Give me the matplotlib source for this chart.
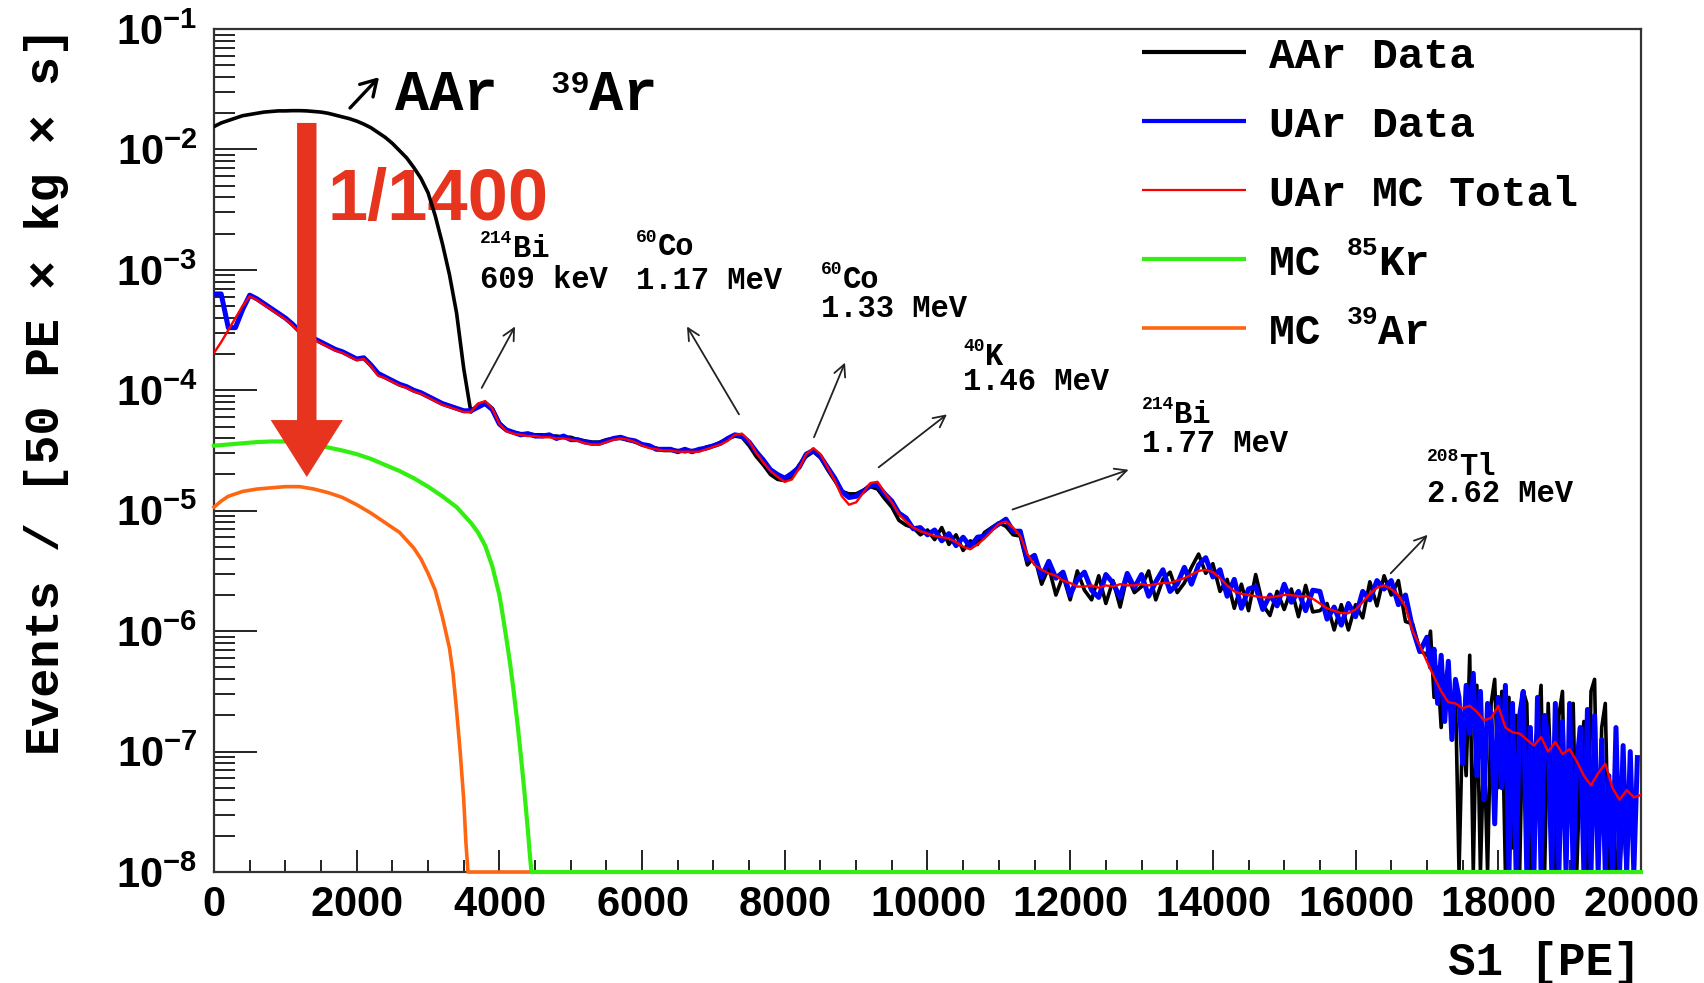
import numpy as np
import matplotlib
matplotlib.use("Agg")
import matplotlib.pyplot as plt
from matplotlib.patches import FancyArrowPatch, ArrowStyle
from matplotlib.ticker import MultipleLocator, FuncFormatter, NullFormatter

# =========================
# DATA  (log10 of events / [50 PE x kg x s])
# =========================

E = -np.inf  # empty bin

# UAr MC total, 100 PE steps from 0 to 20000
mc_total_log = [
    -3.69, -3.60, -3.50, -3.40, -3.30, -3.22, -3.25, -3.29, -3.33, -3.37,
    -3.41, -3.46, -3.52, -3.55, -3.58, -3.61, -3.64, -3.67, -3.69, -3.72,
    -3.75, -3.74, -3.80, -3.88, -3.90, -3.93, -3.96, -3.98, -4.01, -4.03,
    -4.06, -4.09, -4.12, -4.14, -4.16, -4.18, -4.18, -4.11, -4.09, -4.15,
    -4.28, -4.34, -4.36, -4.37, -4.38, -4.38, -4.39, -4.39, -4.40, -4.40,
    -4.41, -4.42, -4.44, -4.45, -4.45, -4.43, -4.41, -4.40, -4.41, -4.43,
    -4.46, -4.48, -4.49, -4.50, -4.50, -4.51, -4.51, -4.51, -4.51, -4.49,
    -4.47, -4.45, -4.42, -4.37, -4.36, -4.42, -4.52, -4.60, -4.67, -4.72,
    -4.76, -4.74, -4.65, -4.53, -4.48, -4.53, -4.64, -4.75, -4.88, -4.95,
    -4.93, -4.85, -4.77, -4.76, -4.85, -4.93, -5.03, -5.09, -5.14, -5.17,
    -5.19, -5.21, -5.22, -5.23, -5.26, -5.30, -5.32, -5.28, -5.23, -5.17,
    -5.11, -5.09, -5.14, -5.21, -5.36, -5.45, -5.49, -5.52, -5.54, -5.58,
    -5.60, -5.63, -5.63, -5.62, -5.64, -5.62, -5.63, -5.61, -5.62, -5.62,
    -5.61, -5.62, -5.61, -5.60, -5.60, -5.58, -5.56, -5.53, -5.50, -5.49,
    -5.51, -5.56, -5.62, -5.67, -5.69, -5.70, -5.71, -5.72, -5.72, -5.71,
    -5.70, -5.70, -5.71, -5.71, -5.73, -5.77, -5.81, -5.83, -5.85, -5.85,
    -5.82, -5.76, -5.69, -5.64, -5.62, -5.65, -5.70, -5.80, -6.00, -6.12,
    -6.25, -6.38, -6.50, -6.59, -6.60, -6.64, -6.62, -6.67, -6.74, -6.72,
    -6.62, -6.80, -6.84, -6.85, -6.90, -6.95, -6.88, -7.00, -6.92, -7.02,
    -6.98, -7.08, -7.20, -7.28, -7.18, -7.10, -7.30, -7.40, -7.32, -7.38,
    -7.36,
]

# data histograms: 100 PE steps from 0 to 16900 ...
uar_log = [
    -3.20, -3.20, -3.48, -3.48, -3.33, -3.21, -3.24, -3.28, -3.32, -3.36,
    -3.40, -3.45, -3.51, -3.54, -3.57, -3.60, -3.63, -3.66, -3.68, -3.71,
    -3.74, -3.73, -3.79, -3.86, -3.89, -3.92, -3.95, -3.97, -4.00, -4.02,
    -4.05, -4.08, -4.11, -4.13, -4.15, -4.17, -4.17, -4.14, -4.11, -4.16,
    -4.28, -4.33, -4.35, -4.37, -4.36, -4.38, -4.38, -4.37, -4.40, -4.38,
    -4.41, -4.41, -4.43, -4.44, -4.44, -4.42, -4.40, -4.39, -4.41, -4.42,
    -4.45, -4.46, -4.49, -4.49, -4.49, -4.51, -4.49, -4.51, -4.49, -4.48,
    -4.46, -4.44, -4.40, -4.37, -4.38, -4.43, -4.51, -4.58, -4.66, -4.70,
    -4.73, -4.69, -4.64, -4.53, -4.50, -4.55, -4.64, -4.73, -4.84, -4.89,
    -4.88, -4.84, -4.79, -4.79, -4.86, -4.92, -5.02, -5.06, -5.15, -5.14,
    -5.20, -5.16, -5.25, -5.19, -5.29, -5.22, -5.30, -5.22, -5.21, -5.15,
    -5.11, -5.07, -5.17, -5.17, -5.41, -5.37, -5.55, -5.42, -5.56, -5.51,
    -5.70, -5.57, -5.51, -5.66, -5.72, -5.53, -5.60, -5.72, -5.52, -5.64,
    -5.53, -5.71, -5.59, -5.49, -5.67, -5.61, -5.47, -5.61, -5.45, -5.39,
    -5.55, -5.49, -5.71, -5.57, -5.81, -5.65, -5.63, -5.82, -5.70, -5.79,
    -5.61, -5.76, -5.67, -5.83, -5.66, -5.67, -5.90, -5.80, -5.95, -5.77,
    -5.88, -5.67, -5.74, -5.58, -5.65, -5.58, -5.78, -5.70, -5.98, -6.17,
]

aar_log = [
    -1.81, -1.78, -1.76, -1.74, -1.72, -1.71, -1.70, -1.69, -1.685, -1.68,
    -1.68, -1.678, -1.678, -1.68, -1.685, -1.69, -1.70, -1.715, -1.73, -1.745,
    -1.765, -1.79, -1.82, -1.86, -1.90, -1.95, -2.01, -2.07, -2.15, -2.24,
    -2.36, -2.55, -2.78, -3.04, -3.36, -3.82, -4.18, -4.12, -4.10, -4.15,
    -4.27, -4.33, -4.35, -4.36, -4.36, -4.37, -4.37, -4.38, -4.38, -4.39,
    -4.39, -4.41, -4.42, -4.43, -4.43, -4.41, -4.40, -4.40, -4.41, -4.43,
    -4.45, -4.47, -4.48, -4.50, -4.50, -4.50, -4.51, -4.50, -4.50, -4.47,
    -4.46, -4.43, -4.40, -4.38, -4.39, -4.46, -4.55, -4.62, -4.70, -4.74,
    -4.75, -4.72, -4.62, -4.55, -4.51, -4.56, -4.66, -4.75, -4.84, -4.86,
    -4.86, -4.83, -4.80, -4.82, -4.90, -4.97, -5.08, -5.12, -5.14, -5.20,
    -5.16, -5.24, -5.14, -5.28, -5.20, -5.33, -5.25, -5.28, -5.18, -5.14,
    -5.10, -5.13, -5.20, -5.21, -5.45, -5.38, -5.61, -5.47, -5.70, -5.54,
    -5.74, -5.50, -5.66, -5.74, -5.54, -5.77, -5.58, -5.80, -5.54, -5.68,
    -5.63, -5.50, -5.74, -5.57, -5.51, -5.68, -5.60, -5.47, -5.36, -5.52,
    -5.44, -5.67, -5.57, -5.81, -5.61, -5.83, -5.53, -5.78, -5.87, -5.67,
    -5.82, -5.65, -5.88, -5.62, -5.84, -5.83, -5.77, -5.99, -5.78, -5.99,
    -5.78, -5.89, -5.59, -5.79, -5.54, -5.70, -5.58, -5.92, -5.94, -6.16,
]

# ... and 50 PE steps from 17000 to 19950 (2.62 MeV edge and beyond)
uar_tail_log = [
    -6.05, -6.30, -6.15, -6.60, -6.20, -6.75, -6.25, -6.90, -6.40, -6.55,
    -7.10, -6.45, -6.85, -6.35, -7.20, -6.50, -7.40, -6.60, -6.70, -7.60,
    -6.55, -7.30, -6.45, E, -6.60, E, -6.70, -6.50, E, -6.80,
    E, -6.55, E, -6.70, -6.90, E, -6.60, E, -6.75, E,
    -6.60, E, -7.10, -6.80, E, -6.65, E, -6.70, E, -6.90,
    E, -7.20, E, -6.80, E, -6.95, E, -7.00, E, -7.05,
]

aar_tail_log = [
    -6.20, -6.00, -6.55, -6.30, -6.80, -6.40, -6.30, -6.70, -6.50, E,
    -6.75, -7.20, -6.20, E, -6.45, E, -6.90, E, -6.60, -6.40,
    -7.30, -6.50, E, -6.55, -7.80, -6.70, E, -6.50, -6.60, E,
    -7.00, -6.80, -6.45, E, -6.60, -7.40, E, -6.70, -6.50, E,
    -6.85, -6.60, E, -7.10, -6.75, E, -6.50, -6.40, E, -6.80,
    -6.60, E, -7.30, E, E, -7.50, E, E, E, E,
]

# MC components
kr85_s1 = [0, 200, 400, 600, 800, 1000, 1200, 1400, 1600, 1800, 2000, 2200,
           2400, 2600, 2800, 3000, 3200, 3400, 3600, 3700, 3800, 3900, 4000,
           4050, 4100, 4150, 4200, 4250, 4300, 4350, 4400, 4430, 4450, 20000]
kr85_log = [-4.46, -4.45, -4.44, -4.43, -4.425, -4.425, -4.43, -4.45, -4.475,
            -4.50, -4.53, -4.57, -4.62, -4.67, -4.73, -4.80, -4.88, -4.97,
            -5.10, -5.18, -5.29, -5.46, -5.70, -5.88, -6.07, -6.27, -6.50,
            -6.75, -7.03, -7.33, -7.66, -7.88, E, E]

ar39_s1 = [0, 100, 200, 400, 600, 800, 1000, 1200, 1400, 1600, 1800, 2000,
           2200, 2400, 2600, 2800, 2900, 3000, 3100, 3200, 3300, 3350, 3400,
           3450, 3500, 3530, 3560, 20000]
ar39_log = [-4.97, -4.92, -4.88, -4.84, -4.82, -4.81, -4.80, -4.80, -4.82,
            -4.85, -4.89, -4.95, -5.02, -5.10, -5.18, -5.31, -5.40, -5.52,
            -5.66, -5.88, -6.14, -6.35, -6.66, -7.00, -7.40, -7.75, E, E]

legend_labels = ["AAr Data", "UAr Data", "UAr MC Total", "MC |85|Kr", "MC |39|Ar"]

# peak labels: isotope mass, element, energy, S1 of label, log10 of the two baselines
peaks = [
    ("214", "Bi", "609 keV", 3730, -2.89, -3.15),
    ("60", "Co", "1.17 MeV", 5914, -2.88, -3.16),
    ("60", "Co", "1.33 MeV", 8507, -3.15, -3.39),
    ("40", "K", "1.46 MeV", 10498, -3.79, -4.00),
    ("214", "Bi", "1.77 MeV", 13006, -4.27, -4.51),
    ("208", "Tl", "2.62 MeV", 17001, -4.70, -4.93),
]
# pointer arrows (from S1, log10) -> (to S1, log10)
peak_arrows = [
    (3752, -3.98, 4219, -3.47),
    (7358, -4.20, 6629, -3.47),
    (8409, -4.39, 8844, -3.77),
    (9315, -4.64, 10273, -4.20),
    (11191, -4.99, 12819, -4.66),
    (16492, -5.52, 17010, -5.20),
]

# =========================
# PREPARE
# =========================

YMIN, YMAX = 1e-8, 1e-1

s1_mc = np.arange(0, 20001, 100)
s1_data = np.concatenate([np.arange(0, 17000, 100), np.arange(17000, 20000, 50)])


def to_rate(logs):
    # empty bins are drawn on the frame minimum, like ROOT does
    return np.clip(10.0 ** np.asarray(logs, dtype=float), YMIN, None)


mc_total = to_rate(mc_total_log)
uar = to_rate(uar_log + uar_tail_log)
aar = to_rate(aar_log + aar_tail_log)
kr85 = to_rate(kr85_log)
ar39 = to_rate(ar39_log)

# =========================
# STYLE
# =========================

MONO = ["Liberation Mono", "DejaVu Sans Mono"]
plt.rcParams["font.family"] = MONO
plt.rcParams["font.weight"] = "bold"
plt.rcParams["mathtext.fontset"] = "custom"
plt.rcParams["mathtext.rm"] = "Liberation Sans:bold"
plt.rcParams["mathtext.it"] = "Liberation Sans:bold"
plt.rcParams["mathtext.bf"] = "Liberation Sans:bold"

BLACK = "#000000"
BLUE = "#0000ff"
RED = "#ff0000"
GREEN = "#33ee11"
ORANGE = "#ff6611"
MARK_RED = "#e6341e"

# =========================
# PLOT
# =========================

fig = plt.figure(figsize=(17.04, 9.83), dpi=100)
ax = fig.add_axes([0.1256, 0.1129, 0.8374, 0.8576])

l_aar, = ax.plot(s1_data, aar, color=BLACK, lw=2.6, zorder=3)
l_uar, = ax.plot(s1_data, uar, color=BLUE, lw=3.6, zorder=3.1)
l_mc, = ax.plot(s1_mc, mc_total, color=RED, lw=1.7, zorder=3.2)
l_ar, = ax.plot(ar39_s1, ar39, color=ORANGE, lw=2.6, zorder=3.3, clip_on=False)
l_kr, = ax.plot(kr85_s1, kr85, color=GREEN, lw=3.0, zorder=3.4, clip_on=False)

ax.set_yscale("log")
ax.set_xlim(0, 20000)
ax.set_ylim(YMIN, YMAX)

# axes / ticks
decades = np.arange(-8, 0)
ax.set_yticks(10.0 ** decades)
ax.set_yticks([m * 10.0 ** d for d in decades[:-1] for m in range(2, 10)], minor=True)
ax.yaxis.set_major_formatter(FuncFormatter(lambda v, p: r"$10^{%d}$" % round(np.log10(v))))
ax.yaxis.set_minor_formatter(NullFormatter())
ax.xaxis.set_major_locator(MultipleLocator(2000))
ax.xaxis.set_minor_locator(MultipleLocator(500))
ax.xaxis.set_major_formatter(FuncFormatter(lambda v, p: r"$%d$" % v))

ax.tick_params(axis="both", which="both", direction="in", top=False, right=False,
               color="#222222", labelsize=30)
ax.tick_params(axis="y", which="major", length=31, width=1.4, pad=12)
ax.tick_params(axis="y", which="minor", length=15, width=1.4)
ax.tick_params(axis="x", which="major", length=16, width=1.4, pad=9)
ax.tick_params(axis="x", which="minor", length=8.5, width=1.4)

for sp in ax.spines.values():
    sp.set_linewidth(1.6)
    sp.set_color("#333333")

fig.text(0.027, 0.602, "Events / [50 PE \u00d7 kg \u00d7 s]", rotation=90,
         ha="center", va="center", fontsize=35, fontweight="bold")
fig.text(0.963, 0.0081, "S1 [PE]", ha="right", va="baseline",
         fontsize=33, fontweight="bold")


# monospace text built from pieces (text, size, rise in points)
def mono_label(x, y, pieces, coords="data"):
    dx = 0.0
    for txt, size, rise in pieces:
        ax.annotate(txt, xy=(x, y), xycoords=coords, xytext=(dx, rise),
                    textcoords="offset points", fontsize=size, fontweight="bold",
                    ha="left", va="baseline", annotation_clip=False, zorder=4)
        dx += 0.6 * size * len(txt)


# =========================
# LEGEND (drawn by hand so the rows stay evenly spaced)
# =========================

leg_lines = [(l_aar, 3.0), (l_uar, 3.0), (l_mc, 1.6), (l_kr, 3.0), (l_ar, 2.6)]
for i, (label, (line, lw)) in enumerate(zip(legend_labels, leg_lines)):
    yy = 0.9727 - i * 0.0818
    ax.plot([0.650, 0.723], [yy, yy], transform=ax.transAxes, color=line.get_color(),
            lw=lw, solid_capstyle="butt", zorder=4)
    if "|" in label:
        head, iso, elem = label.split("|")
        pieces = [(head, 31, 0), (iso, 19, 14.4), (elem, 31, 0)]
    else:
        pieces = [(label, 31, 0)]
    mono_label(0.7395, yy - 0.019, pieces, coords="axes fraction")

# =========================
# ANNOTATIONS
# =========================

# AAr 39Ar spectrum tag
ax.annotate("", xy=(2313, 10 ** -1.40), xytext=(1906, 10 ** -1.656),
            arrowprops=dict(arrowstyle="->,head_length=0.5,head_width=0.3",
                            lw=2.4, color=BLACK, mutation_scale=22,
                            shrinkA=0, shrinkB=0), zorder=4)
mono_label(2537, 10 ** -1.673, [("AAr ", 41, 0), (" 39", 23, 12), ("Ar", 41, 0)])

# scaling arrow and factor
ax.text(1584, 10 ** -2.59, "1/1400", fontsize=52, fontweight="bold",
        family=["Liberation Sans", "DejaVu Sans"], color=MARK_RED,
        ha="left", va="baseline", zorder=1)
big_arrow = FancyArrowPatch(
    posA=(1300, 10 ** -1.78), posB=(1300, 10 ** -4.72),
    arrowstyle=ArrowStyle.Simple(head_length=41, head_width=52, tail_width=14),
    mutation_scale=1, color=MARK_RED, lw=0, shrinkA=0, shrinkB=0, zorder=6)
ax.add_patch(big_arrow)

# gamma lines
for (mass, elem, energy, x0, y_top, y_bot) in peaks:
    mono_label(x0, 10 ** y_top, [(mass, 13, 10), (elem, 22, 0)])
    mono_label(x0, 10 ** y_bot, [(energy, 22, 0)])

for (xa, ya, xb, yb) in peak_arrows:
    ax.annotate("", xy=(xb, 10 ** yb), xytext=(xa, 10 ** ya),
                arrowprops=dict(arrowstyle="->,head_length=0.6,head_width=0.3",
                                lw=1.3, color="#222222", mutation_scale=14,
                                shrinkA=0, shrinkB=0), zorder=4)

fig.savefig("out.png", dpi=100)
